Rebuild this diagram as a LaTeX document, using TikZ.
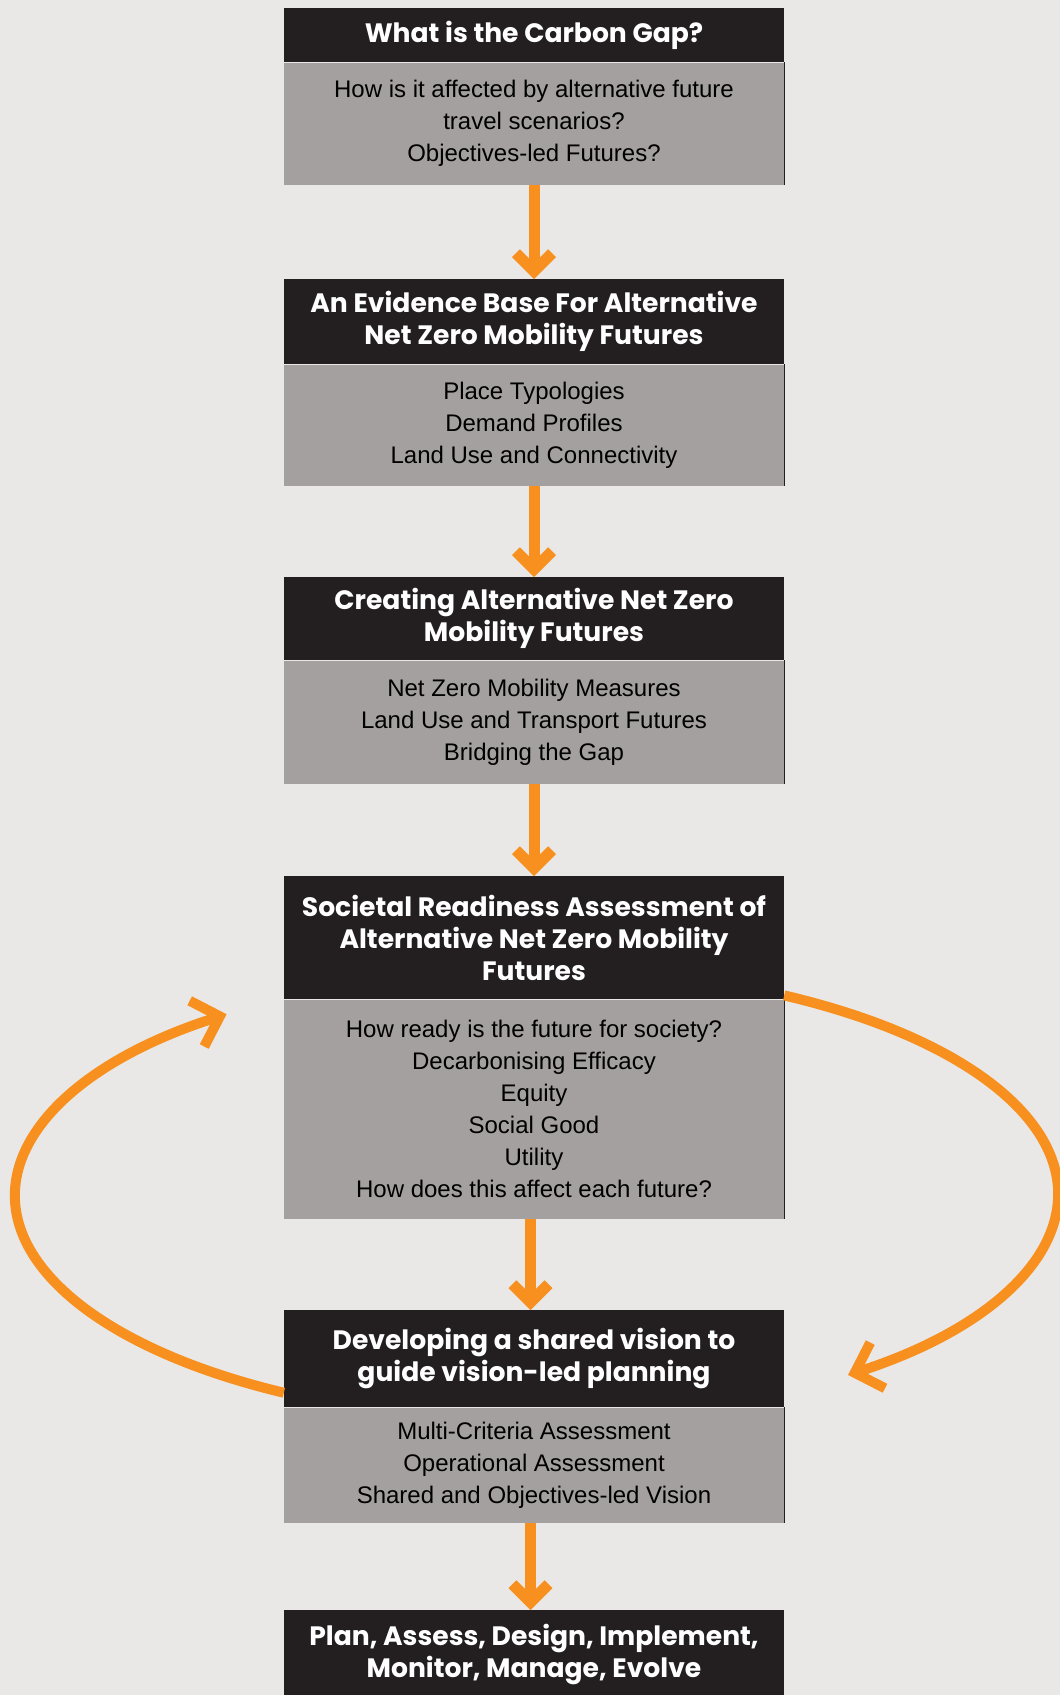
\documentclass[tikz,border=0pt]{standalone}
\usepackage{fontspec}
\setmainfont{Liberation Sans}
\newfontfamily\headfont{Poppins}
\usetikzlibrary{positioning, arrows.meta}

\definecolor{bgcol}{HTML}{E9E8E6}
\definecolor{headcol}{HTML}{231F20}
\definecolor{bodycol}{HTML}{A4A09F}
\definecolor{flowcol}{HTML}{F7901E}

\tikzset{
  headbox/.style={fill=headcol, text=white, minimum width=500pt, inner sep=0pt,
    align=center, anchor=north, font=\headfont\bfseries\fontsize{26.6}{32}\selectfont},
  bodybox/.style={fill=bodycol, text=black, minimum width=500pt, inner sep=0pt,
    align=center, anchor=north, font=\fontsize{24}{32}\selectfont},
  flowarrow/.style={draw=flowcol, line width=11pt, -{Straight Barb[length=18pt, width=36pt]}},
  loopline/.style={draw=flowcol, line width=10pt, -{Straight Barb[length=24pt, width=48pt]}}
}

\begin{document}
\begin{tikzpicture}[x=1pt,y=1pt]
\useasboundingbox (0,0) rectangle (1060,-1695);
\clip (0,0) rectangle (1060,-1695);
\fill[bgcol] (0,0) rectangle (1060,-1695);

% stages
\node[headbox, minimum height=54pt] (h1) at (534,-8) {What is the Carbon Gap?};
\node[bodybox, minimum height=122pt, below=0pt of h1] (b1)
  {How is it affected by alternative future\\travel scenarios?\\Objectives-led Futures?};

\node[headbox, minimum height=85pt] (h2) at (534,-279)
  {An Evidence Base For Alternative\\Net Zero Mobility Futures};
\node[bodybox, minimum height=121pt, below=0pt of h2] (b2)
  {Place Typologies\\Demand Profiles\\Land Use and Connectivity};

\node[headbox, minimum height=83pt] (h3) at (534,-577)
  {Creating Alternative Net Zero\\Mobility Futures};
\node[bodybox, minimum height=123pt, below=0pt of h3] (b3)
  {Net Zero Mobility Measures\\Land Use and Transport Futures\\Bridging the Gap};

\node[headbox, minimum height=123pt] (h4) at (534,-876)
  {Societal Readiness Assessment of\\Alternative Net Zero Mobility\\Futures};
\node[bodybox, minimum height=219pt, below=0pt of h4] (b4)
  {How ready is the future for society?\\Decarbonising Efficacy\\Equity\\Social Good\\Utility\\How does this affect each future?};

\node[headbox, minimum height=97pt] (h5) at (534,-1310)
  {Developing a shared vision to\\guide vision-led planning};
\node[bodybox, minimum height=115pt, below=0pt of h5] (b5)
  {Multi-Criteria Assessment\\Operational Assessment\\Shared and Objectives-led Vision};

\node[headbox, minimum height=88pt] (h6) at (534,-1610)
  {Plan, Assess, Design, Implement,\\Monitor, Manage, Evolve};

% dark right edge of the grey boxes
\foreach \b in {b1,b2,b3,b4,b5}
  \draw[headcol, line width=1pt] (\b.north east) -- (\b.south east);

% flow arrows
\foreach \a/\b in {b1/h2,b2/h3,b3/h4}
  \draw[flowarrow] (\a.south) -- (\b.north);
\foreach \a/\b in {b4/h5,b5/h6}
  \draw[flowarrow] ([xshift=-3.5pt]\a.south) -- ([xshift=-3.5pt]\b.north);

% feedback loops
\draw[loopline] ([yshift=-34pt]h5.west) arc[start angle=241.2, end angle=126.3, x radius=519, y radius=225];
\draw[loopline] ([yshift=4pt]h4.south east) arc[start angle=61.5, end angle=-53.2, x radius=524, y radius=226];
\end{tikzpicture}
\end{document}
